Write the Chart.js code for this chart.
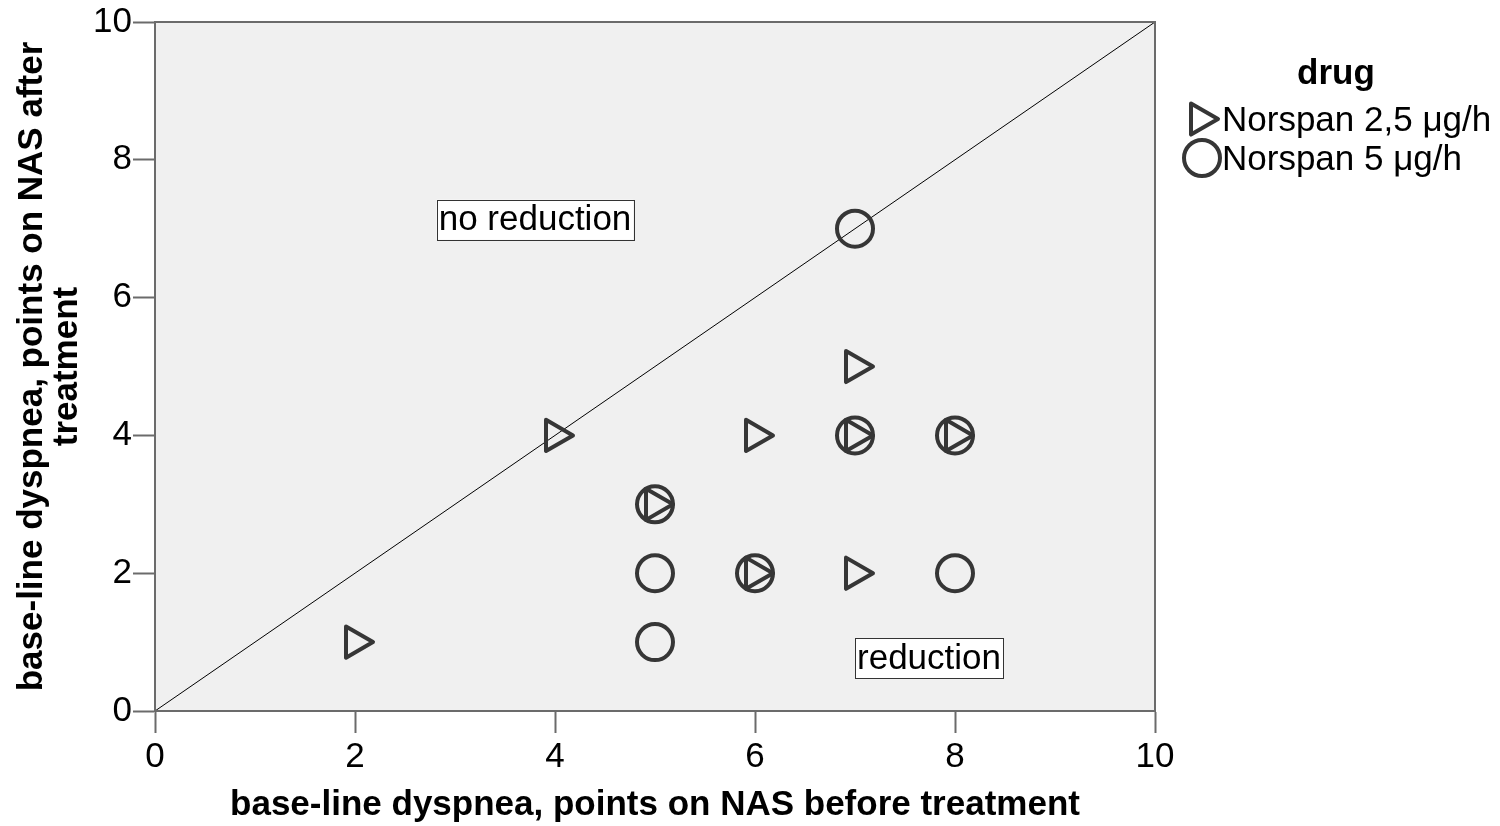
<!DOCTYPE html>
<html>
<head>
<meta charset="utf-8">
<script src="https://cdn.jsdelivr.net/npm/chart.js@4"></script>
<style>
  body { margin: 0; background: #fff; }
  #wrap { width: 1500px; height: 826px; }
</style>
</head>
<body>
<div id="wrap"><canvas id="grafico" width="1500" height="826"></canvas></div>
<script>
// pontos
const norspan25 = [
  { x: 2, y: 1 }, { x: 4, y: 4 }, { x: 5, y: 3 }, { x: 6, y: 4 }, { x: 6, y: 2 },
  { x: 7, y: 5 }, { x: 7, y: 4 }, { x: 7, y: 2 }, { x: 8, y: 4 }
];
const norspan5 = [
  { x: 7, y: 7 }, { x: 5, y: 3 }, { x: 5, y: 2 }, { x: 5, y: 1 }, { x: 6, y: 2 },
  { x: 7, y: 4 }, { x: 8, y: 4 }, { x: 8, y: 2 }
];
const diagonal = [{ x: 0, y: 0 }, { x: 10, y: 10 }];
const seriesLabels = ['Norspan 2,5 μg/h', 'Norspan 5 μg/h'];
const legendTitle = 'drug';
const boxLabels = [
  { text: 'no reduction', x: 3.8, y: 7.13 },
  { text: 'reduction', x: 7.74, y: 0.77 }
];
const xTitle = 'base-line dyspnea, points on NAS before treatment';
const yTitle = ['base-line dyspnea, points on NAS after', 'treatment'];

const FONTE = 'Arial, "Liberation Sans", sans-serif';
const TAM = 35;
const COR_MARCA = '#363636';

// fundo cinza, moldura, caixas de texto e legenda
const fundoPlugin = {
  id: 'fundo',
  beforeDraw(chart) {
    const { ctx, chartArea: a } = chart;
    ctx.save();
    ctx.fillStyle = '#f0f0f0';
    ctx.fillRect(a.left, a.top, a.right - a.left, a.bottom - a.top);
    ctx.restore();
  },
  beforeDatasetsDraw(chart) {
    chart.ctx.lineJoin = 'round';
  },
  afterDatasetsDraw(chart) {
    const { ctx, chartArea: a, scales } = chart;
    ctx.save();
    ctx.lineJoin = 'miter';
    ctx.strokeStyle = '#6b6b6b';
    ctx.lineWidth = 2;
    ctx.strokeRect(a.left, a.top, a.right - a.left, a.bottom - a.top);

    ctx.font = TAM + 'px ' + FONTE;
    ctx.textAlign = 'center';
    ctx.textBaseline = 'middle';
    boxLabels.forEach(b => {
      const px = scales.x.getPixelForValue(b.x);
      const py = scales.y.getPixelForValue(b.y);
      const w = ctx.measureText(b.text).width + 4;
      const h = 40;
      ctx.fillStyle = '#fff';
      ctx.fillRect(px - w / 2, py - h / 2, w, h);
      ctx.strokeStyle = '#333';
      ctx.lineWidth = 1;
      ctx.strokeRect(Math.round(px - w / 2) + 0.5, Math.round(py - h / 2) + 0.5, Math.round(w), h);
      ctx.fillStyle = '#000';
      ctx.fillText(b.text, px, py + 1);
    });
    ctx.restore();
  },
  afterDraw(chart) {
    const { ctx } = chart;
    ctx.save();
    ctx.fillStyle = '#000';
    ctx.textBaseline = 'middle';
    ctx.textAlign = 'center';
    ctx.font = 'bold ' + TAM + 'px ' + FONTE;
    ctx.fillText(legendTitle, 1336, 74);
    ctx.textAlign = 'left';
    ctx.font = TAM + 'px ' + FONTE;
    const linhas = [119, 158];
    [0, 1].forEach(i => {
      const ds = chart.data.datasets[i];
      ctx.lineJoin = 'round';
      ctx.fillStyle = 'rgba(0,0,0,0)';
      ctx.strokeStyle = ds.borderColor;
      ctx.lineWidth = ds.borderWidth;
      Chart.helpers.drawPoint(ctx, {
        pointStyle: ds.pointStyle,
        rotation: ds.pointRotation,
        radius: ds.pointRadius,
        borderWidth: ds.borderWidth
      }, i === 0 ? 1200 : 1202, linhas[i]);
      ctx.fillStyle = '#000';
      ctx.fillText(seriesLabels[i], 1222, linhas[i] + 2);
    });
    ctx.restore();
  }
};

function eixo(titulo, tamanho, vertical) {
  return {
    type: 'linear',
    min: 0,
    max: 10,
    ticks: {
      stepSize: 2,
      color: '#000',
      font: { family: FONTE, size: TAM },
      padding: vertical ? 1 : 3
    },
    grid: {
      display: true,
      drawOnChartArea: false,
      drawTicks: true,
      tickLength: 22,
      tickWidth: 2,
      tickColor: '#6b6b6b'
    },
    border: { display: true, color: '#6b6b6b', width: 2 },
    title: {
      display: true,
      text: titulo,
      color: '#000',
      font: { family: FONTE, size: TAM, weight: 'bold', lineHeight: 1.0 },
      padding: vertical ? { top: 15, bottom: 0 } : { top: 0, bottom: 3 }
    },
    afterFit(scale) {
      if (vertical) scale.width = tamanho; else scale.height = tamanho;
    }
  };
}

const ctx = document.getElementById('grafico').getContext('2d');
new Chart(ctx, {
  type: 'scatter',
  data: {
    datasets: [
      {
        label: seriesLabels[0],
        data: norspan25,
        pointStyle: 'triangle',
        pointRotation: 90,
        pointRadius: 18,
        pointHoverRadius: 18,
        borderWidth: 4,
        borderColor: COR_MARCA,
        backgroundColor: 'rgba(0,0,0,0)'
      },
      {
        label: seriesLabels[1],
        data: norspan5,
        pointStyle: 'circle',
        pointRadius: 18,
        pointHoverRadius: 18,
        borderWidth: 4,
        borderColor: COR_MARCA,
        backgroundColor: 'rgba(0,0,0,0)'
      },
      {
        type: 'line',
        label: 'diagonal',
        data: diagonal,
        borderColor: '#000',
        borderWidth: 1,
        pointRadius: 0,
        fill: false
      }
    ]
  },
  options: {
    responsive: false,
    animation: false,
    devicePixelRatio: 1,
    layout: { padding: { left: 0, top: 20, right: 345, bottom: 0 } },
    scales: {
      x: eixo(xTitle, 115, false),
      y: eixo(yTitle, 155, true)
    },
    plugins: {
      legend: { display: false },
      tooltip: { enabled: false }
    }
  },
  plugins: [fundoPlugin]
});
</script>
</body>
</html>
